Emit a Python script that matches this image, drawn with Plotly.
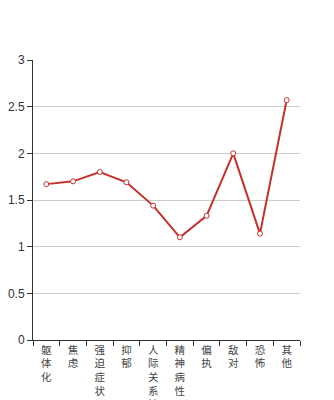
import plotly.graph_objects as go

categories = ["躯体化", "焦虑", "强迫症状", "抑郁", "人际关系敏", "精神病性", "偏执", "敌对", "恐怖", "其他"]
values = [1.67, 1.70, 1.80, 1.69, 1.44, 1.10, 1.33, 2.00, 1.14, 2.57]
y_ticks = [0, 0.5, 1, 1.5, 2, 2.5, 3]
y_labels = ["0", "0.5", "1", "1.5", "2", "2.5", "3"]

tick_text = ["<br>".join(list(c)) for c in categories]

fig = go.Figure()
fig.add_trace(go.Scatter(
    x=categories, y=values, mode="lines+markers",
    line=dict(color="#c4302b", width=2),
    marker=dict(symbol="circle", size=5, color="white",
                line=dict(color="#c4302b", width=1)),
    hoverinfo="skip",
))

fig.update_layout(
    width=334, height=400,
    margin=dict(l=33, r=34, t=60, b=60, autoexpand=False),
    plot_bgcolor="white", paper_bgcolor="white",
    showlegend=False,
    font=dict(family="Liberation Sans, Arial, sans-serif", size=12, color="#333"),
)
fig.update_xaxes(
    type="category", tickmode="array", tickvals=categories, ticktext=tick_text,
    tickson="boundaries", ticks="outside", ticklen=5, tickcolor="#333",
    showline=True, linecolor="#333", linewidth=1, showgrid=False,
    tickfont=dict(family="Noto Sans CJK SC", size=10.5, color="#444"),
    range=[-0.5, 9.5], tickangle=0, automargin=False,
)
fig.update_yaxes(
    range=[0, 3], tickmode="array", tickvals=y_ticks, ticktext=y_labels,
    ticks="outside", ticklen=5, tickcolor="#333",
    showline=True, linecolor="#333", linewidth=1,
    showgrid=True, gridcolor="#cccccc", gridwidth=1, zeroline=False,
    tickfont=dict(size=12, color="#333"), automargin=False,
)

fig.write_html("out.html")
